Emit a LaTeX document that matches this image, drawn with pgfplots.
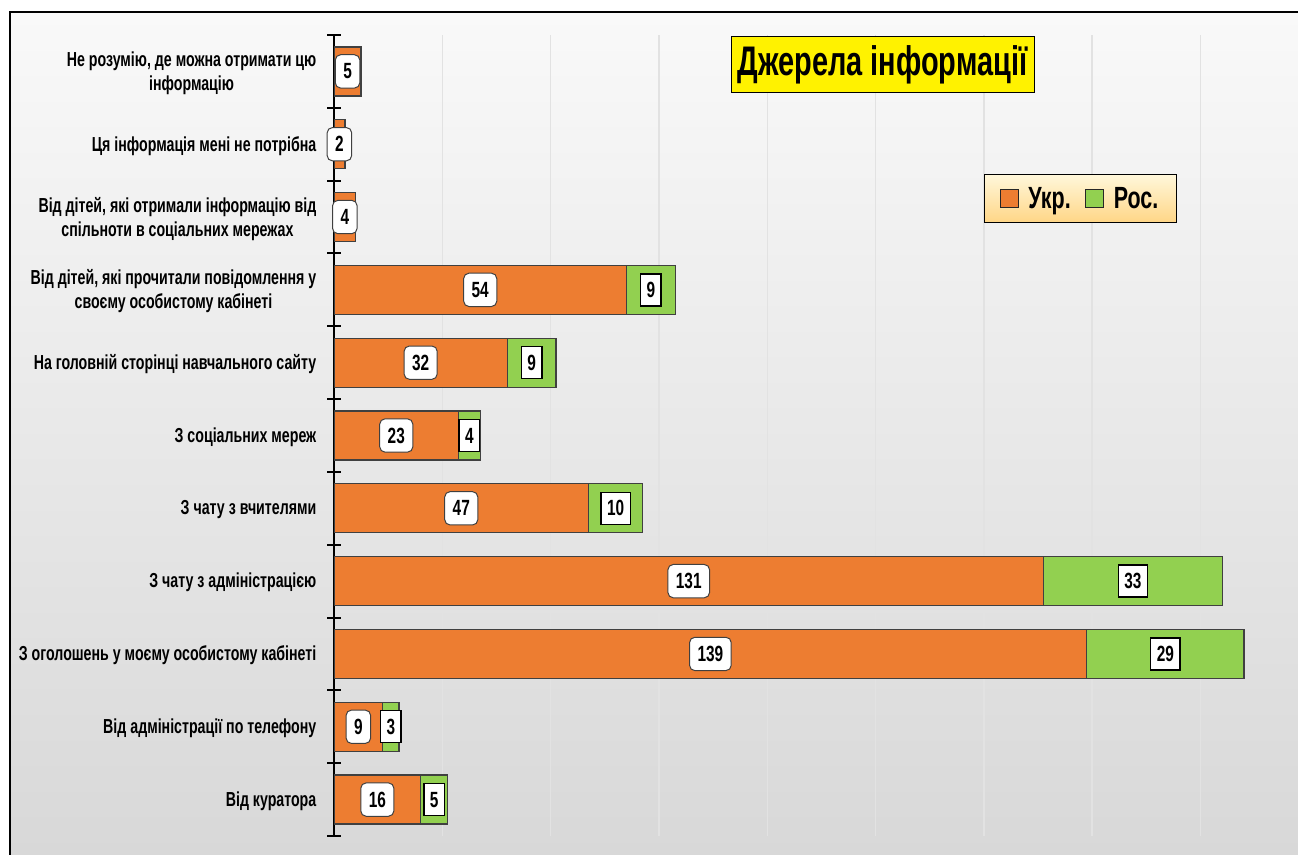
\documentclass[border=0pt]{standalone}
\usepackage{pgfplots}
\pgfplotsset{compat=1.18}
\usepackage{pgfplotstable}
\usepackage{fontspec}
\setmainfont{Liberation Sans}[FakeStretch=0.7]
\definecolor{ukr}{RGB}{237,125,49}
\definecolor{ros}{RGB}{146,208,80}
\definecolor{barline}{RGB}{64,64,64}
\definecolor{bgtop}{RGB}{249,249,249}
\definecolor{bgbot}{RGB}{216,216,216}
\definecolor{gridc}{RGB}{226,226,226}
\definecolor{legtop}{RGB}{255,247,218}
\definecolor{legbot}{RGB}{255,214,135}
\pgfplotstableread{
y u
0 16
1 9
2 139
3 131
4 47
5 23
6 32
7 54
8 4
9 2
10 5
}\ukrtab
\pgfplotstableread{
y r
0 5
1 3
2 29
3 33
4 10
5 4
6 9
7 9
}\rostab
\begin{document}
\begin{tikzpicture}
\fill[white] (0,0) rectangle (973.5pt,641.25pt);
\useasboundingbox (0,0) rectangle (973.5pt,641.25pt);
\shade[top color=bgtop, bottom color=bgbot] (7.5pt,0) rectangle (973.5pt,632.25pt);
\draw[black, line width=1.9pt] (7.5pt,-2pt) -- (7.5pt,632.25pt) -- (975pt,632.25pt);
\begin{axis}[
  at={(250.5pt,14.25pt)}, anchor=south west,
  width=723pt, height=600.75pt, scale only axis,
  xbar stacked, bar width=36.75pt,
  xmin=0, xmax=178, ymin=-0.5, ymax=10.5,
  xtick={20,40,...,160}, xticklabels={}, xtick style={draw=none},
  xmajorgrids, ymajorgrids=false,
  major x grid style={gridc, line width=1.1pt},
  ytick={-0.5,0.5,...,10.5},
  yticklabels={{}, {Від куратора}, {Від адміністрації по телефону},
    {З оголошень у моєму особистому кабінеті}, {З чату з адміністрацією},
    {З чату з вчителями}, {З соціальних мереж},
    {На головній сторінці навчального сайту},
    {Від дітей, які прочитали повідомлення у\\своєму особистому кабінеті},
    {Від дітей, які отримали інформацію від\\спільноти в соціальних мережах},
    {Ця інформація мені не потрібна},
    {Не розумію, де можна отримати цю\\інформацію}},
  yticklabel style={align=center, font=\fontsize{15.2}{18}\selectfont\bfseries, yshift=-28.5pt, xshift=-4.5pt},
  tick align=center, major tick length=10.5pt,
  ytick style={black, line width=1.5pt},
  axis lines*=left, axis line style={-},
  x axis line style={draw=none},
  y axis line style={black, line width=1.8pt},
  /pgf/number format/assume math mode=true,
  legend columns=2,
  legend style={at={(0.7744,0.7959)}, anchor=center, draw=black, line width=0.75pt,
    top color=legtop, bottom color=legbot, inner xsep=12pt, inner ysep=7pt,
    font=\fontsize{23}{23}\selectfont\bfseries,
    /tikz/every odd column/.append style={column sep=5pt},
    /tikz/every even column/.append style={column sep=9pt}},
  legend image code/.code={\draw[#1, draw=black!85, line width=0.75pt] (0pt,-6.5pt) rectangle (13.5pt,7pt);},
]
\addplot[fill=ukr, draw=barline, line width=1pt,
  visualization depends on={\thisrow{u} \as \segval},
  nodes near coords={\pgfmathprintnumber{\segval}},
  nodes near coords style={anchor=center,
    fill=white, draw=barline, line width=0.75pt, rounded corners=4pt,
    inner xsep=6pt, inner ysep=0pt, minimum height=25pt, text=black,
    font=\fontsize{16.5}{16.5}\selectfont\bfseries}]
  table[x=u, y=y] {\ukrtab};
\addlegendentry{Укр.}
\addplot[fill=ros, draw=barline, line width=1pt,
  visualization depends on={\thisrow{r} \as \segval},
  nodes near coords={\pgfmathprintnumber{\segval}},
  nodes near coords style={anchor=center,
    fill=white, draw=black, line width=1pt, sharp corners,
    inner xsep=4.5pt, inner ysep=0pt, minimum height=24pt, text=black,
    font=\fontsize{16.5}{16.5}\selectfont\bfseries}]
  table[x=r, y=y] {\rostab};
\addlegendentry{Рос.}
\end{axis}
\node[fill=yellow, draw=black, line width=0.75pt, minimum width=227.25pt,
  minimum height=42pt, inner sep=0pt, font=\fontsize{31}{31}\selectfont\bfseries]
  at (661.9pt,592.5pt) {Джерела інформації};
\end{tikzpicture}
\end{document}
